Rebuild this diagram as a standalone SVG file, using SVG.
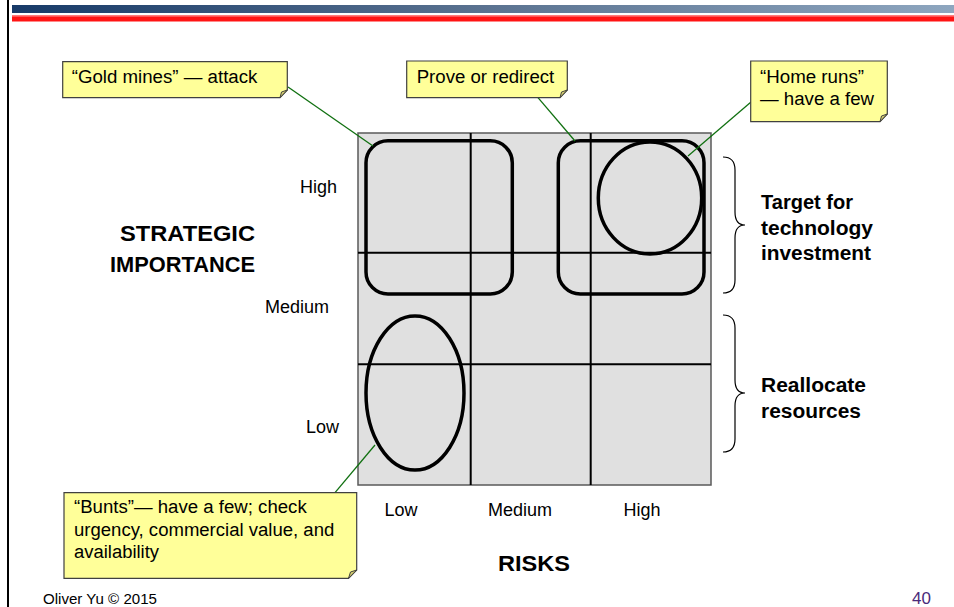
<svg xmlns="http://www.w3.org/2000/svg" width="954" height="607" viewBox="0 0 954 607">
  <defs>
    <linearGradient id="topbar" x1="0" y1="0" x2="1" y2="0">
      <stop offset="0" stop-color="#173a68"/>
      <stop offset="0.5" stop-color="#5a7290"/>
      <stop offset="1" stop-color="#8ea6bf"/>
    </linearGradient>
    <style>
      .lbl { font-family: "Liberation Sans", Arial, sans-serif; font-size: 18px; fill: #000; }
      .bold { font-family: "Liberation Sans", Arial, sans-serif; font-size: 20px; font-weight: bold; fill: #000; }
      .title { font-family: "Liberation Sans", Arial, sans-serif; font-size: 22px; font-weight: bold; fill: #000; }
      .note { fill: #ffff99; stroke: #404040; stroke-width: 1.2; }
      .fold { fill: #d8d070; stroke: #404040; stroke-width: 1; }
      .lead { stroke: #107010; stroke-width: 1.3; fill: none; }
      .grid { stroke: #000; stroke-width: 2; fill: none; }
      .ring { stroke: #000; stroke-width: 3.5; fill: none; }
      .brace { stroke: #000; stroke-width: 1.2; fill: none; }
    </style>
  </defs>

  <rect width="954" height="607" fill="#fff"/>

  <!-- page frame and title bars -->
  <line x1="8" y1="0" x2="8" y2="607" stroke="#000" stroke-width="2"/>
  <rect x="12" y="5" width="942" height="8" fill="url(#topbar)"/>
  <rect x="12" y="15.5" width="942" height="6" fill="#ff1414"/>
  <rect x="12" y="15.5" width="942" height="1.2" fill="#ff7070"/>

  <!-- matrix -->
  <g id="matrix">
    <rect x="358" y="133" width="353" height="352" fill="#e0e0e0" stroke="#5a5a5a" stroke-width="1.5"/>
    <line class="grid" x1="470.7" y1="133" x2="470.7" y2="485"/>
    <line class="grid" x1="590.7" y1="133" x2="590.7" y2="485"/>
    <line class="grid" x1="358" y1="252.7" x2="711" y2="252.7"/>
    <line class="grid" x1="358" y1="364.3" x2="711" y2="364.3"/>
  </g>

  <!-- zone outlines -->
  <g id="gold-mines-zone">
    <rect class="ring" x="366" y="140.7" width="146.3" height="153.3" rx="22" ry="22"/>
  </g>
  <g id="prove-zone">
    <rect class="ring" x="558.3" y="140.7" width="145.7" height="153.3" rx="22" ry="22"/>
  </g>
  <g id="home-runs-zone">
    <ellipse class="ring" cx="650" cy="198" rx="51.7" ry="56"/>
  </g>
  <g id="bunts-zone">
    <ellipse class="ring" cx="415" cy="393" rx="49" ry="77"/>
  </g>

  <!-- callout leader lines -->
  <g id="connectors">
    <line class="lead" x1="288" y1="87" x2="373" y2="146"/>
    <line class="lead" x1="538" y1="97.7" x2="575" y2="141"/>
    <line class="lead" x1="751" y1="102" x2="688" y2="156"/>
    <line class="lead" x1="335" y1="492.7" x2="375" y2="445"/>
  </g>

  <!-- callouts -->
  <g id="callout-gold-mines">
    <path class="note" d="M62.7 61.7 H287.3 V90 L280 97.7 H62.7 Z"/>
    <path class="fold" d="M287.3 90 L281.5 92 L280 97.7 Z"/>
    <text class="lbl" x="71.7" y="83.3" textLength="185.7" lengthAdjust="spacingAndGlyphs">“Gold mines” — attack</text>
  </g>
  <g id="callout-prove">
    <path class="note" d="M406.7 61 H567.3 V90 L560 97.7 H406.7 Z"/>
    <path class="fold" d="M567.3 90 L561.5 92 L560 97.7 Z"/>
    <text class="lbl" x="416.7" y="83.3" textLength="137.6" lengthAdjust="spacingAndGlyphs">Prove or redirect</text>
  </g>
  <g id="callout-home-runs">
    <path class="note" d="M750.7 61 H887.3 V114 L880 121.7 H750.7 Z"/>
    <path class="fold" d="M887.3 114 L881.5 116 L880 121.7 Z"/>
    <text class="lbl" x="760" y="83.3" textLength="104" lengthAdjust="spacingAndGlyphs">“Home runs”</text>
    <text class="lbl" x="760" y="105" textLength="114" lengthAdjust="spacingAndGlyphs">— have a few</text>
  </g>
  <g id="callout-bunts">
    <path class="note" d="M64 492.7 H356.7 V570 L348.5 578.3 H64 Z"/>
    <path class="fold" d="M356.7 570 L350.5 572 L348.5 578.3 Z"/>
    <text class="lbl" x="74" y="513.3" textLength="232.7" lengthAdjust="spacingAndGlyphs">“Bunts”— have a few; check</text>
    <text class="lbl" x="74" y="535.7" textLength="260.3" lengthAdjust="spacingAndGlyphs">urgency, commercial value, and</text>
    <text class="lbl" x="74" y="557.5" textLength="85" lengthAdjust="spacingAndGlyphs">availability</text>
  </g>

  <!-- axis labels -->
  <g id="axis-y">
    <text class="lbl" x="337" y="193" text-anchor="end">High</text>
    <text class="lbl" x="329" y="313" text-anchor="end">Medium</text>
    <text class="lbl" x="339" y="433" text-anchor="end">Low</text>
    <text class="title" x="120" y="241" textLength="135" lengthAdjust="spacingAndGlyphs">STRATEGIC</text>
    <text class="title" x="110" y="272" textLength="145" lengthAdjust="spacingAndGlyphs">IMPORTANCE</text>
  </g>
  <g id="axis-x">
    <text class="lbl" x="401" y="516" text-anchor="middle">Low</text>
    <text class="lbl" x="520" y="516" text-anchor="middle">Medium</text>
    <text class="lbl" x="642" y="516" text-anchor="middle">High</text>
    <text class="title" x="498" y="571" textLength="72" lengthAdjust="spacingAndGlyphs">RISKS</text>
  </g>

  <!-- right-hand groupings -->
  <g id="target-group">
    <path class="brace" d="M723 157 Q735 157 735 170 V212 Q735 225 745 225 Q735 225 735 238 V280 Q735 293 723 293"/>
    <text class="bold" x="761" y="209" textLength="92" lengthAdjust="spacingAndGlyphs">Target for</text>
    <text class="bold" x="761" y="235" textLength="112" lengthAdjust="spacingAndGlyphs">technology</text>
    <text class="bold" x="761" y="260" textLength="110" lengthAdjust="spacingAndGlyphs">investment</text>
  </g>
  <g id="reallocate-group">
    <path class="brace" d="M723 315 Q735 315 735 328 V380 Q735 393 745 393 Q735 393 735 406 V439 Q735 452 723 452"/>
    <text class="bold" x="761" y="392" textLength="105" lengthAdjust="spacingAndGlyphs">Reallocate</text>
    <text class="bold" x="761" y="418" textLength="100" lengthAdjust="spacingAndGlyphs">resources</text>
  </g>

  <!-- footer -->
  <text x="43" y="604" font-family="'Liberation Sans', Arial, sans-serif" font-size="14" fill="#000" textLength="114" lengthAdjust="spacingAndGlyphs">Oliver Yu © 2015</text>
  <text x="931" y="604" text-anchor="end" font-family="'Liberation Sans', Arial, sans-serif" font-size="17" fill="#4a2a7a">40</text>
</svg>
